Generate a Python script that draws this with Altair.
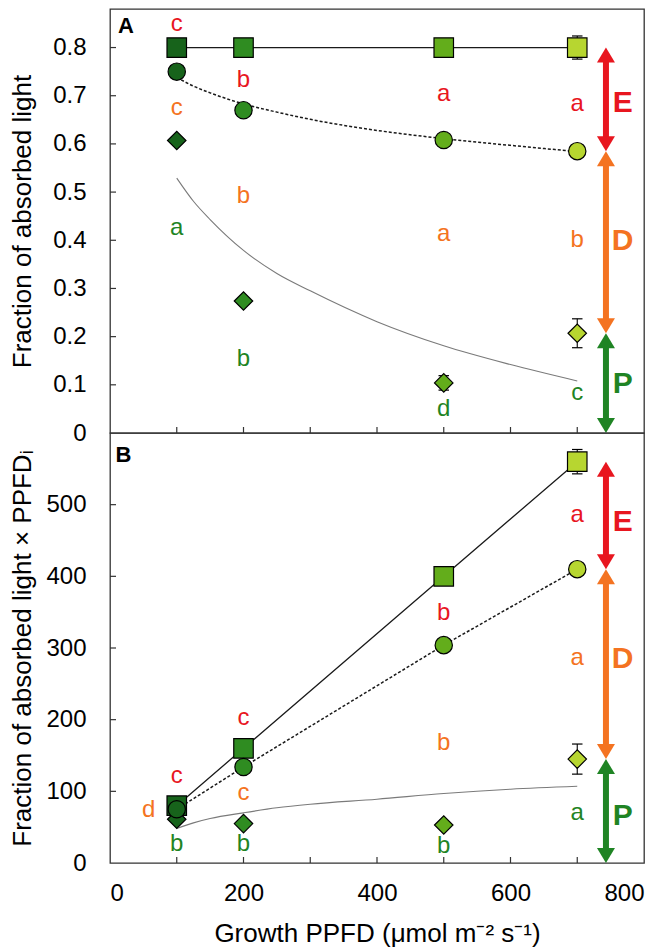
import altair as alt
import pandas as pd

FONT = "Liberation Sans"

# ---------------- data ----------------
ppfd = [100, 200, 500, 700]
marker_colors = ["#17631b", "#2f8c21", "#63ad1b", "#b7d630"]

# Panel A: fraction of absorbed light
a_total = [0.80, 0.80, 0.80, 0.80]          # squares
a_total_err = [0.0, 0.0, 0.0, 0.024]
a_circle = [0.750, 0.670, 0.608, 0.585]     # circles
a_diamond = [0.607, 0.274, 0.104, 0.207]    # diamonds
a_diamond_err = [0.0, 0.0, 0.015, 0.030]

fit_x = [100, 125, 150, 200, 250, 300, 400, 500, 600, 700]
a_dotted_fit = [0.738, 0.720, 0.706, 0.683, 0.666, 0.651, 0.628, 0.611, 0.597, 0.584]
a_gray_fit = [0.529, 0.481, 0.443, 0.379, 0.331, 0.295, 0.231, 0.181, 0.142, 0.108]

# Panel B: fraction of absorbed light x PPFDi
b_total = [80, 160, 400, 560]
b_total_err = [0, 0, 0, 17]
b_circle = [75, 134, 304, 410]
b_diamond = [61, 55, 53, 145]
b_diamond_err = [0, 0, 0, 21]
b_gray_fit = [48, 56, 62, 70, 77, 82, 89, 97, 103, 107]

# significance letters
a_E_x, a_E_y, a_E_t = [100, 200, 500, 700], [0.848, 0.733, 0.704, 0.683], ["c", "b", "a", "a"]
a_D_x, a_D_y, a_D_t = [100, 200, 500, 700], [0.675, 0.492, 0.413, 0.400], ["c", "b", "a", "b"]
a_P_x, a_P_y, a_P_t = [100, 200, 500, 700], [0.426, 0.153, 0.049, 0.082], ["a", "b", "d", "c"]
b_E_x, b_E_y, b_E_t = [100, 200, 500, 700], [121, 203, 349, 486], ["c", "c", "b", "a"]
b_D_x, b_D_y, b_D_t = [58, 200, 500, 700], [74, 97, 168, 286], ["d", "c", "b", "a"]
b_P_x, b_P_y, b_P_t = [100, 200, 500, 700], [27, 27, 24, 70], ["b", "b", "b", "a"]

groups = ["E", "D", "P"]
group_colors = ["#e8161f", "#f47321", "#1f8424"]
arrow_x = 743
group_label_x = 768
a_group_label_y = [0.685, 0.399, 0.102]
b_group_label_y = [476, 284, 65]

x_labels = [0, 200, 400, 600, 800]
x_inner_ticks = [100, 200, 300, 400, 500, 600, 700]
a_y_labels = [0, 0.1, 0.2, 0.3, 0.4, 0.5, 0.6, 0.7, 0.8]
b_y_labels = [0, 100, 200, 300, 400, 500]

W = 534


def xenc(bottom, field="x"):
    if bottom:
        axis = alt.Axis(values=x_labels, ticks=False, tickSize=0, domain=False, grid=False,
                        labelFontSize=24, labelFont=FONT, labelColor="black", labelPadding=18,
                        title="Growth PPFD (μmol m⁻² s⁻¹)", titleFont=FONT, titleFontSize=26,
                        titleFontWeight="normal", titleColor="black", titlePadding=15)
    else:
        axis = None
    return alt.X(f"{field}:Q", scale=alt.Scale(domain=[0, 800], nice=False, zero=False), axis=axis)


def yenc(dom, vals, fmt, title, h, field="y"):
    axis = alt.Axis(values=vals, format=fmt, ticks=False, tickSize=0, domain=False, grid=False,
                    labelFontSize=24, labelFont=FONT, labelColor="black", labelPadding=24,
                    title=title, titleFont=FONT, titleFontSize=26, titleFontWeight="normal",
                    titleColor="black", titleAngle=270, titleX=-80, titleY=h / 2,
                    titleAlign="center", titleBaseline="alphabetic")
    return alt.Y(f"{field}:Q", scale=alt.Scale(domain=dom, nice=False, zero=False), axis=axis)


def panel(h, dom, yvals, fmt, ytitle, bottom, tot, tot_err, circ, circ_line_x, circ_line_y,
          circ_interp, dia, dia_err, gray_y, letters, glabel_y, pname, pname_xy):
    X = lambda f="x": xenc(bottom, f)
    Y = lambda f="y": yenc(dom, yvals, fmt, ytitle, h, f)
    gcol = alt.Color("g:N", scale=alt.Scale(domain=groups, range=group_colors), legend=None)
    fillc = alt.Fill("p:O", scale=alt.Scale(domain=ppfd, range=marker_colors), legend=None)

    gray = alt.Chart(pd.DataFrame({"x": fit_x, "y": gray_y})).mark_line(
        color="#7a7a7a", strokeWidth=1.1, interpolate="monotone").encode(x=X(), y=Y())
    dotted = alt.Chart(pd.DataFrame({"x": circ_line_x, "y": circ_line_y})).mark_line(
        color="#1a1a1a", strokeWidth=1.5, strokeDash=[3, 2], interpolate=circ_interp).encode(x=X(), y=Y())
    solid = alt.Chart(pd.DataFrame({"x": ppfd, "y": tot})).mark_line(
        color="#1a1a1a", strokeWidth=1.3).encode(x=X(), y=Y())

    err_rows = []
    for xs, vs, es in [(ppfd, tot, tot_err), (ppfd, dia, dia_err)]:
        for xv, v, e in zip(xs, vs, es):
            if e > 0:
                err_rows.append({"x": xv, "y": v + e, "lo": v - e})
    err_df = pd.DataFrame(err_rows)
    err_rule = alt.Chart(err_df).mark_rule(color="black", strokeWidth=1.1).encode(
        x=X(), y=Y(), y2="lo:Q")
    cap_df = pd.concat([err_df[["x", "y"]], err_df[["x", "lo"]].rename(columns={"lo": "y"})])
    caps = alt.Chart(cap_df).mark_point(shape="M-1,0L1,0", size=110, filled=False,
                                        color="black", strokeWidth=1.2, opacity=1).encode(x=X(), y=Y())

    sdf = lambda vals: pd.DataFrame({"x": ppfd, "y": vals, "p": ppfd})
    diamonds = alt.Chart(sdf(dia)).mark_point(shape="diamond", size=340, filled=True, opacity=1,
                                              stroke="black", strokeWidth=1.2).encode(x=X(), y=Y(), fill=fillc)
    squares = alt.Chart(sdf(tot)).mark_point(shape="square", size=380, filled=True, opacity=1,
                                             stroke="black", strokeWidth=1.2).encode(x=X(), y=Y(), fill=fillc)
    circles = alt.Chart(sdf(circ)).mark_point(shape="circle", size=300, filled=True, opacity=1,
                                              stroke="black", strokeWidth=1.2).encode(x=X(), y=Y(), fill=fillc)

    lrows = []
    for g, (xs, ys, ts) in zip(groups, letters):
        for xv, yv, t in zip(xs, ys, ts):
            lrows.append({"x": xv, "y": yv, "t": t, "g": g})
    letter_txt = alt.Chart(pd.DataFrame(lrows)).mark_text(
        font=FONT, fontSize=24, align="center", baseline="middle").encode(
        x=X(), y=Y(), text="t:N", color=gcol)

    levels = [tot[-1], circ[-1], dia[-1], 0]
    arr_df = pd.DataFrame({"x": [arrow_x] * 3, "y": levels[:3], "lo": levels[1:], "g": groups})
    shaft = alt.Chart(arr_df).mark_rule(strokeWidth=6, yOffset=10, y2Offset=-10).encode(
        x=X(), y=Y(), y2="lo:Q", color=gcol)
    head_up = alt.Chart(arr_df).mark_point(shape="M0,0L1,1.667L-1,1.667Z", size=324, filled=True,
                                           opacity=1, strokeWidth=0).encode(x=X(), y=Y(), color=gcol)
    head_dn = alt.Chart(arr_df).mark_point(shape="M0,0L1,-1.667L-1,-1.667Z", size=324, filled=True,
                                           opacity=1, strokeWidth=0).encode(x=X(), y=Y("lo"), color=gcol)
    glabels = alt.Chart(pd.DataFrame({"x": [group_label_x] * 3, "y": glabel_y, "g": groups})).mark_text(
        font=FONT, fontSize=30, fontWeight="bold", align="center", baseline="middle").encode(
        x=X(), y=Y(), text="g:N", color=gcol)

    pl = alt.Chart(pd.DataFrame({"x": [pname_xy[0]], "y": [pname_xy[1]], "t": [pname]})).mark_text(
        font=FONT, fontSize=22, fontWeight="bold", align="center", baseline="middle", color="black").encode(
        x=X(), y=Y(), text="t:N")

    ytick_df = pd.DataFrame({"y": [v for v in yvals if v != 0]})
    yticks = alt.Chart(ytick_df).mark_rule(color="#333333", strokeWidth=1.2).encode(
        x=alt.value(0), x2=alt.value(6), y=Y())
    xtick_df = pd.DataFrame({"x": x_inner_ticks})
    xticks = alt.Chart(xtick_df).mark_rule(color="#333333", strokeWidth=1.2).encode(
        x=X(), y=alt.value(h), y2=alt.value(h - 6))

    return alt.layer(gray, dotted, solid, err_rule, caps, diamonds, squares, circles,
                     letter_txt, shaft, head_up, head_dn, glabels, pl, yticks, xticks).properties(
        width=W, height=h)


top = panel(424, [0, 0.88], a_y_labels, ".1~f", "Fraction of absorbed light", False,
            a_total, a_total_err, a_circle, fit_x, a_dotted_fit, "monotone", a_diamond, a_diamond_err,
            a_gray_fit,
            [(a_E_x, a_E_y, a_E_t), (a_D_x, a_D_y, a_D_t), (a_P_x, a_P_y, a_P_t)],
            a_group_label_y, "A", (24, 0.845))
bot = panel(430, [0, 600], b_y_labels, "d", "Fraction of absorbed light × PPFDᵢ", True,
            b_total, b_total_err, b_circle, ppfd, b_circle, "linear", b_diamond, b_diamond_err,
            b_gray_fit,
            [(b_E_x, b_E_y, b_E_t), (b_D_x, b_D_y, b_D_t), (b_P_x, b_P_y, b_P_t)],
            b_group_label_y, "B", (20, 570))

chart = alt.vconcat(top, bot, spacing=0, bounds="flush").properties(
    padding={"left": 0, "top": 0, "right": 5, "bottom": 0}
).configure_view(stroke="#333333", strokeWidth=1.3)

chart.save("out.html", embed_options={"renderer": "svg", "actions": False})
